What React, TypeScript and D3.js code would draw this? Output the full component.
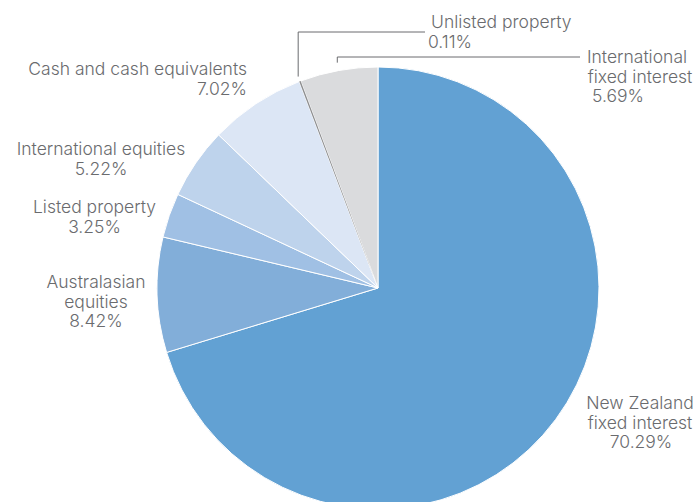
import { useMemo } from 'react'
import * as d3 from 'd3'

const WIDTH = 694
const HEIGHT = 502
const CENTER = { x: 378, y: 288 }
const RADIUS = 221

// allocation shares, clockwise from 12 o'clock
const SECTORS = [
  'New Zealand fixed interest',
  'Australasian equities',
  'Listed property',
  'International equities',
  'Cash and cash equivalents',
  'Unlisted property',
  'International fixed interest',
]
const SHARES = [70.29, 8.42, 3.25, 5.22, 7.02, 0.11, 5.69]
const SHARE_LABELS = ['70.29%', '8.42%', '3.25%', '5.22%', '7.02%', '0.11%', '5.69%']
const LABEL_LINES = [
  ['New Zealand', 'fixed interest'],
  ['Australasian', 'equities'],
  ['Listed property'],
  ['International equities'],
  ['Cash and cash equivalents'],
  ['Unlisted property'],
  ['International', 'fixed interest'],
]
const COLORS = ['#62a1d3', '#82aed9', '#a0c0e4', '#bed3ec', '#dce6f5', '#8e8f91', '#dadbdd']

// hand placed label layout: anchor x per line, first baseline, text anchor
type LabelLayout = {
  xs: number[]
  y: number
  anchor: 'start' | 'middle' | 'end'
  leader?: { elbowY: number; endX: number; offset: number }
}
const LAYOUT: LabelLayout[] = [
  { xs: [640, 640, 641], y: 409, anchor: 'middle' },
  { xs: [96, 96, 96], y: 288, anchor: 'middle' },
  { xs: [94.5, 94.5], y: 213, anchor: 'middle' },
  { xs: [101, 101], y: 155, anchor: 'middle' },
  { xs: [247, 247], y: 75, anchor: 'end' },
  { xs: [431, 428], y: 28, anchor: 'start', leader: { elbowY: 32, endX: 425, offset: 5 } },
  { xs: [637, 640, 618], y: 63, anchor: 'middle', leader: { elbowY: 57, endX: 580, offset: 8 } },
]
const LINE_HEIGHT = 19.7
const TEXT_COLOR = '#6a6b6e'

export default function App() {
  const arcs = useMemo(
    () =>
      d3
        .pie<number>()
        .sort(null)
        .value((d) => d)(SHARES),
    []
  )
  const arc = d3.arc<d3.PieArcDatum<number>>().innerRadius(0).outerRadius(RADIUS)
  // draw the thin unlisted sliver last so it stays visible
  const order = [0, 1, 2, 3, 4, 6, 5]

  return (
    <svg
      width={WIDTH}
      height={HEIGHT}
      viewBox={`0 0 ${WIDTH} ${HEIGHT}`}
      style={{ position: 'absolute', left: 0, top: 0, background: '#fff' }}
      fontFamily="Inter, 'Open Sans', sans-serif"
      fontWeight={300}
      fontSize={17.5}
    >
      <g transform={`translate(${CENTER.x} ${CENTER.y})`}>
        {order.map((i) => (
          <path
            key={SECTORS[i]}
            d={arc(arcs[i]) ?? undefined}
            fill={COLORS[i]}
            stroke={i === 5 ? 'none' : '#fff'}
            strokeWidth={1}
            strokeLinejoin="round"
          />
        ))}
      </g>

      {arcs.map((a, i) => {
        const lead = LAYOUT[i].leader
        if (!lead) return null
        const mid = (a.startAngle + a.endAngle) / 2
        const r = RADIUS + lead.offset
        const sx = CENTER.x + r * Math.sin(mid)
        const sy = CENTER.y - r * Math.cos(mid)
        return (
          <path
            key={`lead-${SECTORS[i]}`}
            d={`M${sx},${sy}V${lead.elbowY}H${lead.endX}`}
            fill="none"
            stroke={TEXT_COLOR}
            strokeWidth={1}
          />
        )
      })}

      {SECTORS.map((name, i) => {
        const lines = [...LABEL_LINES[i], SHARE_LABELS[i]]
        const layout = LAYOUT[i]
        return (
          <text key={`label-${name}`} fill={TEXT_COLOR} textAnchor={layout.anchor}>
            {lines.map((line, j) => (
              <tspan key={j} x={layout.xs[j]} y={layout.y + j * LINE_HEIGHT}>
                {line}
              </tspan>
            ))}
          </text>
        )
      })}
    </svg>
  )
}
